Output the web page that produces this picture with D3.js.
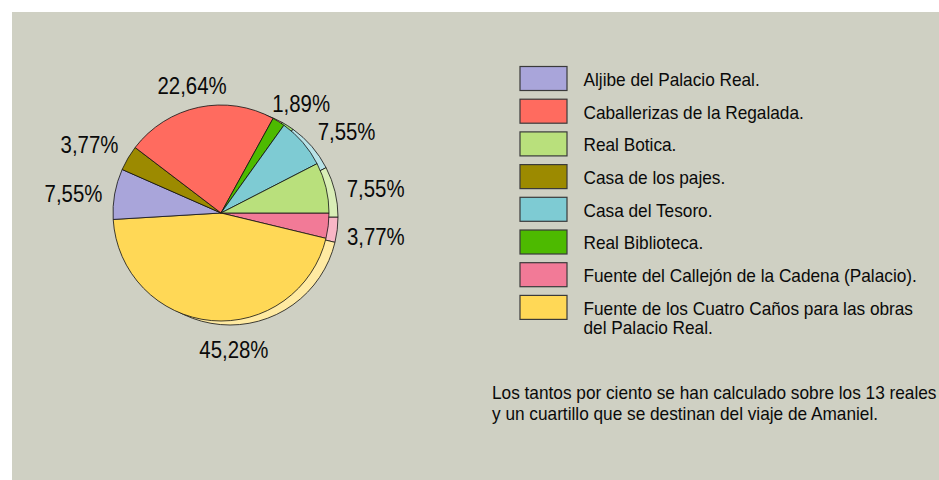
<!DOCTYPE html>
<html>
<head>
<meta charset="utf-8">
<script src="https://cdn.jsdelivr.net/npm/d3@7"></script>
<style>
  body { margin: 0; background: #fff; }
  text { font-family: "Liberation Sans", Arial, sans-serif; fill: #0a0a0a; }
</style>
</head>
<body>
<div id="chart"></div>
<script>
// legend order
const categories = [
    "Aljibe del Palacio Real.",
    "Caballerizas de la Regalada.",
    "Real Botica.",
    "Casa de los pajes.",
    "Casa del Tesoro.",
    "Real Biblioteca.",
    "Fuente del Callejón de la Cadena (Palacio).",
    "Fuente de los Cuatro Caños para las obras\ndel Palacio Real."
];
const percents = [7.55, 22.64, 7.55, 3.77, 7.55, 1.89, 3.77, 45.28];
const colors = ["#a9a5da", "#ff6b5f", "#b9e07c", "#9c8a00", "#7ecbd3", "#4dba00", "#f27a97", "#ffd856"];
// slices clockwise from 3 o'clock
const pieOrder = [6, 7, 0, 3, 1, 5, 4, 2];
const note = [
    "Los tantos por ciento se han calculado sobre los 13 reales",
    "y un cuartillo que se destinan del viaje de Amaniel."
];

const W = 939, H = 480;
const cx = 221, cy = 213, r = 108;
const shadow = {dx: 9, dy: 4};

const svg = d3.select("#chart")
    .append("svg")
    .attr("width", W)
    .attr("height", H);

svg.append("rect")
    .attr("x", 12).attr("y", 12)
    .attr("width", W - 12).attr("height", H - 12)
    .attr("fill", "#cfd0c3");

const data = pieOrder.map(i => ({cat: categories[i], value: percents[i], color: colors[i]}));

const pie = d3.pie()
    .sort(null)
    .value(d => d.value)
    .startAngle(Math.PI / 2)
    .endAngle(Math.PI / 2 + 2 * Math.PI);

const arcs = pie(data);
const arc = d3.arc().innerRadius(0).outerRadius(r);
const lighten = c => d3.interpolateRgb(c, "#ffffff")(0.45);

// lighter copy behind, gives the thin 3d edge
svg.append("g")
    .attr("transform", `translate(${cx + shadow.dx},${cy + shadow.dy})`)
    .selectAll("path")
    .data(arcs)
    .join("path")
    .attr("d", arc)
    .attr("fill", d => lighten(d.data.color))
    .attr("stroke", "#111")
    .attr("stroke-width", 0.8);

svg.append("g")
    .attr("transform", `translate(${cx},${cy})`)
    .selectAll("path")
    .data(arcs)
    .join("path")
    .attr("d", arc)
    .attr("fill", d => d.data.color)
    .attr("stroke", "#111")
    .attr("stroke-width", 0.8);

// percentage labels outside the pie
const fmt = v => d3.format(".2f")(v).replace(".", ",") + "%";
const labelR = 125, lc = {x: cx + 4, y: cy + 4};
const labelSize = 24, labelSx = 0.85;
// small nudges, keyed by legend index
const labelShift = {7: [23, -1], 5: [-6, 0], 3: [-3, -4], 4: [5, 2], 2: [1, 3], 6: [-2, 4]};

arcs.forEach(d => {
    const a = (d.startAngle + d.endAngle) / 2;
    const sx = Math.sin(a), sy = -Math.cos(a);
    const g = svg.append("g");
    const t = g.append("text")
        .attr("text-anchor", "middle")
        .attr("font-size", labelSize)
        .attr("transform", `scale(${labelSx},1)`)
        .text(fmt(d.value));
    const w = t.node().getComputedTextLength() * labelSx, h = 18;
    const idx = categories.indexOf(d.data.cat);
    const sh = labelShift[idx] || [0, 0];
    const x = lc.x + labelR * sx + w / 2 * sx + sh[0];
    const y = lc.y + labelR * sy + h / 2 * sy + sh[1];
    g.attr("transform", `translate(${x},${y + 8.5})`);
});

// legend
const legendSize = 18.6, legendSx = 0.927;
const ly = d3.scaleLinear().domain([0, 1]).range([66.5, 99.2]);

const legend = svg.append("g");
categories.forEach((c, i) => {
    legend.append("rect")
        .attr("x", 520)
        .attr("y", ly(i))
        .attr("width", 47)
        .attr("height", 24)
        .attr("fill", colors[i])
        .attr("stroke", "#3a3a3a")
        .attr("stroke-width", 1.2);
    const t = legend.append("text")
        .attr("font-size", legendSize)
        .attr("transform", `translate(583.5,${ly(i) + 19.3}) scale(${legendSx},1)`);
    c.split("\n").forEach((line, j) => {
        t.append("tspan")
            .attr("x", 0)
            .attr("y", j * 19.5)
            .text(line);
    });
});

const nt = svg.append("text")
    .attr("font-size", legendSize)
    .attr("transform", `translate(492,399.3) scale(${legendSx},1)`);
note.forEach((line, j) => {
    nt.append("tspan").attr("x", 0).attr("y", j * 20.7).text(line);
});
</script>
</body>
</html>
